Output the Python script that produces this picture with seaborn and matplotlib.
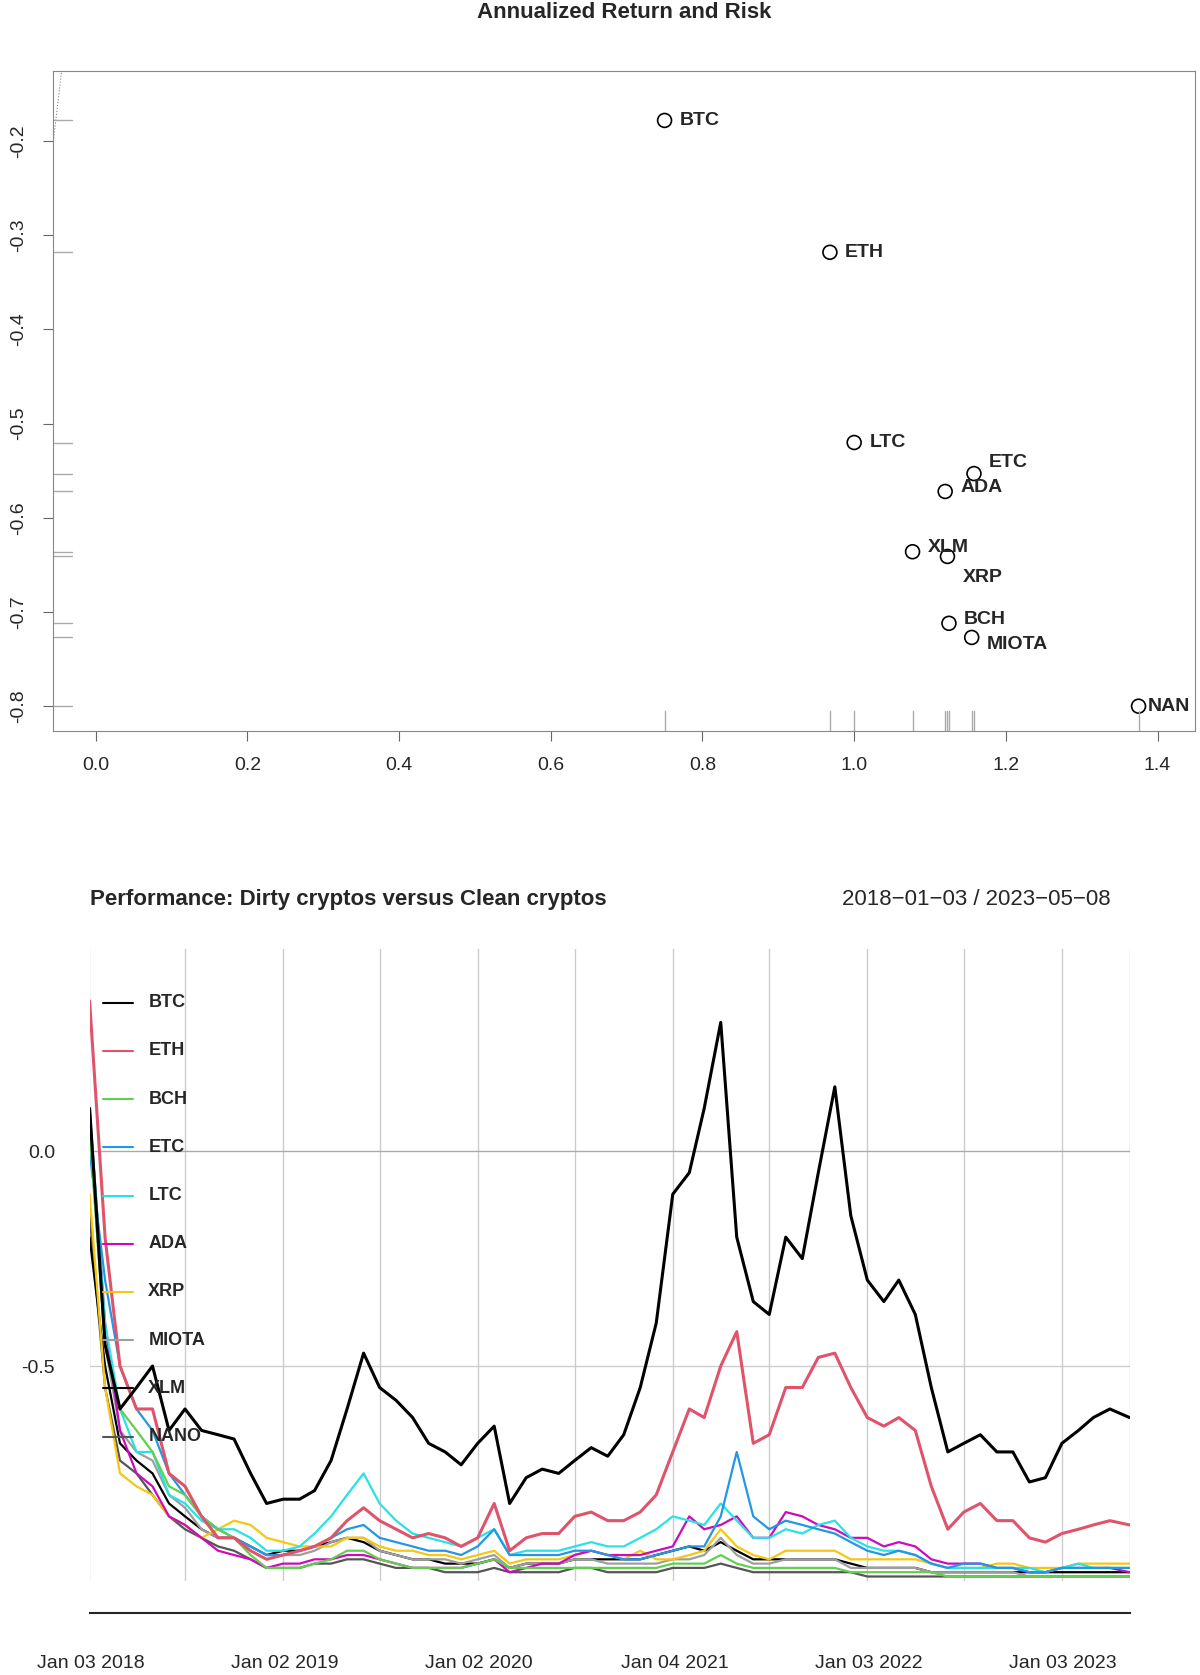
import matplotlib
matplotlib.use("Agg")
import matplotlib.pyplot as plt
import seaborn as sns
import pandas as pd
import numpy as np

sns.set_style("white")
plt.rcParams['font.family'] = ['Liberation Sans', 'DejaVu Sans']

# ---- Top scatter data ----
sc_names = ["BTC", "ETH", "LTC", "ETC", "ADA", "XLM", "XRP", "BCH", "MIOTA", "NAN"]
sc_risk = [0.750, 0.968, 1.000, 1.158, 1.120, 1.077, 1.123, 1.125, 1.155, 1.375]
sc_ret = [-0.178, -0.318, -0.520, -0.553, -0.572, -0.636, -0.641, -0.712, -0.727, -0.800]
sc_lab_dx = [0.02, 0.02, 0.02, 0.02, 0.02, 0.02, 0.02, 0.02, 0.02, 0.012]
sc_lab_dy = [0.0, 0.0, 0.0, 0.012, 0.004, 0.004, -0.022, 0.004, -0.008, 0.0]

# ---- Bottom time series (monthly, Jan 2018 - May 2023) ----
BTC = [0.10,-0.45,-0.60,-0.55,-0.50,-0.65,-0.60,-0.65,-0.66,-0.67,-0.75,-0.82,
       -0.81,-0.81,-0.79,-0.72,-0.60,-0.47,-0.55,-0.58,-0.62,-0.68,-0.70,-0.73,
       -0.68,-0.64,-0.82,-0.76,-0.74,-0.75,-0.72,-0.69,-0.71,-0.66,-0.55,-0.40,
       -0.10,-0.05,0.10,0.30,-0.20,-0.35,-0.38,-0.20,-0.25,-0.05,0.15,-0.15,
       -0.30,-0.35,-0.30,-0.38,-0.55,-0.70,-0.68,-0.66,-0.70,-0.70,-0.77,-0.76,
       -0.68,-0.65,-0.62,-0.60,-0.62]
ETH = [0.35,-0.20,-0.50,-0.60,-0.60,-0.75,-0.78,-0.85,-0.90,-0.90,-0.93,-0.95,
       -0.94,-0.93,-0.92,-0.90,-0.86,-0.83,-0.86,-0.88,-0.90,-0.89,-0.90,-0.92,
       -0.90,-0.82,-0.93,-0.90,-0.89,-0.89,-0.85,-0.84,-0.86,-0.86,-0.84,-0.80,
       -0.70,-0.60,-0.62,-0.50,-0.42,-0.68,-0.66,-0.55,-0.55,-0.48,-0.47,-0.55,
       -0.62,-0.64,-0.62,-0.65,-0.78,-0.88,-0.84,-0.82,-0.86,-0.86,-0.90,-0.91,
       -0.89,-0.88,-0.87,-0.86,-0.87]
BCH = [0.05,-0.45,-0.60,-0.65,-0.70,-0.78,-0.80,-0.85,-0.88,-0.90,-0.94,-0.97,
       -0.97,-0.97,-0.96,-0.95,-0.93,-0.93,-0.95,-0.96,-0.97,-0.97,-0.97,-0.97,
       -0.96,-0.95,-0.97,-0.97,-0.97,-0.97,-0.97,-0.97,-0.97,-0.97,-0.97,-0.97,
       -0.96,-0.96,-0.96,-0.94,-0.96,-0.97,-0.97,-0.97,-0.97,-0.97,-0.97,-0.98,
       -0.98,-0.98,-0.98,-0.98,-0.98,-0.99,-0.99,-0.99,-0.99,-0.99,-0.99,-0.99,
       -0.99,-0.99,-0.99,-0.99,-0.99]
ETC = [0.00,-0.30,-0.50,-0.60,-0.65,-0.75,-0.80,-0.85,-0.88,-0.90,-0.92,-0.94,
       -0.94,-0.93,-0.92,-0.90,-0.88,-0.87,-0.90,-0.91,-0.92,-0.93,-0.93,-0.94,
       -0.92,-0.88,-0.94,-0.94,-0.94,-0.94,-0.93,-0.93,-0.94,-0.95,-0.95,-0.94,
       -0.93,-0.92,-0.92,-0.85,-0.70,-0.85,-0.88,-0.86,-0.87,-0.88,-0.89,-0.91,
       -0.93,-0.94,-0.93,-0.94,-0.96,-0.97,-0.96,-0.96,-0.97,-0.97,-0.98,-0.98,
       -0.97,-0.97,-0.97,-0.97,-0.97]
LTC = [0.10,-0.40,-0.60,-0.70,-0.70,-0.80,-0.82,-0.86,-0.88,-0.88,-0.90,-0.93,
       -0.93,-0.92,-0.89,-0.85,-0.80,-0.75,-0.82,-0.86,-0.89,-0.90,-0.91,-0.92,
       -0.90,-0.88,-0.94,-0.93,-0.93,-0.93,-0.92,-0.91,-0.92,-0.92,-0.90,-0.88,
       -0.85,-0.86,-0.87,-0.82,-0.86,-0.90,-0.90,-0.88,-0.89,-0.87,-0.86,-0.90,
       -0.92,-0.93,-0.93,-0.94,-0.96,-0.97,-0.97,-0.97,-0.97,-0.97,-0.97,-0.98,
       -0.97,-0.96,-0.97,-0.97,-0.97]
ADA = [0.10,-0.40,-0.65,-0.75,-0.78,-0.85,-0.87,-0.90,-0.93,-0.94,-0.95,-0.97,
       -0.96,-0.96,-0.95,-0.95,-0.94,-0.94,-0.95,-0.96,-0.97,-0.97,-0.97,-0.97,
       -0.96,-0.95,-0.98,-0.97,-0.96,-0.96,-0.94,-0.93,-0.94,-0.94,-0.94,-0.93,
       -0.92,-0.85,-0.88,-0.87,-0.85,-0.90,-0.90,-0.84,-0.85,-0.87,-0.88,-0.90,
       -0.90,-0.92,-0.91,-0.92,-0.95,-0.96,-0.96,-0.96,-0.97,-0.97,-0.98,-0.98,
       -0.97,-0.97,-0.97,-0.97,-0.98]
XRP = [-0.10,-0.55,-0.75,-0.78,-0.80,-0.85,-0.87,-0.90,-0.88,-0.86,-0.87,-0.90,
       -0.91,-0.92,-0.92,-0.92,-0.90,-0.90,-0.92,-0.93,-0.93,-0.94,-0.94,-0.95,
       -0.94,-0.93,-0.96,-0.95,-0.95,-0.95,-0.94,-0.93,-0.94,-0.95,-0.93,-0.95,
       -0.95,-0.94,-0.93,-0.88,-0.92,-0.94,-0.95,-0.93,-0.93,-0.93,-0.93,-0.95,
       -0.95,-0.95,-0.95,-0.95,-0.96,-0.97,-0.97,-0.97,-0.96,-0.96,-0.97,-0.97,
       -0.97,-0.96,-0.96,-0.96,-0.96]
MIOTA = [0.05,-0.45,-0.65,-0.70,-0.72,-0.80,-0.83,-0.88,-0.90,-0.90,-0.92,-0.94,
         -0.94,-0.94,-0.93,-0.91,-0.90,-0.90,-0.93,-0.94,-0.95,-0.95,-0.95,-0.96,
         -0.95,-0.94,-0.97,-0.96,-0.96,-0.96,-0.95,-0.95,-0.96,-0.96,-0.96,-0.96,
         -0.95,-0.95,-0.94,-0.90,-0.94,-0.96,-0.96,-0.95,-0.95,-0.95,-0.95,-0.97,
         -0.97,-0.97,-0.97,-0.97,-0.98,-0.98,-0.98,-0.98,-0.98,-0.98,-0.99,-0.99,
         -0.99,-0.99,-0.99,-0.99,-0.99]
XLM = [-0.20,-0.50,-0.68,-0.72,-0.75,-0.82,-0.85,-0.88,-0.90,-0.90,-0.92,-0.94,
       -0.93,-0.93,-0.92,-0.91,-0.90,-0.91,-0.93,-0.94,-0.95,-0.95,-0.96,-0.96,
       -0.96,-0.95,-0.97,-0.96,-0.96,-0.96,-0.95,-0.95,-0.95,-0.95,-0.95,-0.94,
       -0.93,-0.92,-0.93,-0.91,-0.93,-0.95,-0.95,-0.95,-0.95,-0.95,-0.95,-0.96,
       -0.97,-0.97,-0.97,-0.97,-0.98,-0.98,-0.98,-0.98,-0.98,-0.98,-0.98,-0.98,
       -0.98,-0.98,-0.98,-0.98,-0.98]
NANO = [-0.15,-0.55,-0.72,-0.75,-0.80,-0.85,-0.88,-0.90,-0.92,-0.93,-0.95,-0.97,
        -0.97,-0.97,-0.96,-0.96,-0.95,-0.95,-0.96,-0.97,-0.97,-0.97,-0.98,-0.98,
        -0.98,-0.97,-0.98,-0.98,-0.98,-0.98,-0.97,-0.97,-0.98,-0.98,-0.98,-0.98,
        -0.97,-0.97,-0.97,-0.96,-0.97,-0.98,-0.98,-0.98,-0.98,-0.98,-0.98,-0.98,
        -0.99,-0.99,-0.99,-0.99,-0.99,-0.99,-0.99,-0.99,-0.99,-0.99,-0.99,-0.99,
        -0.99,-0.99,-0.99,-0.99,-0.99]
series_names = ["BTC", "ETH", "BCH", "ETC", "LTC", "ADA", "XRP", "MIOTA", "XLM", "NANO"]
series_vals = [BTC, ETH, BCH, ETC, LTC, ADA, XRP, MIOTA, XLM, NANO]
series_colors = ["black", "#DF536B", "#61D04F", "#2297E6", "#28E2E5", "#CD0BBC",
                 "#F5C710", "#9E9E9E", "black", "#555555"]
tick_dates = ["2018-01-03", "2019-01-02", "2020-01-02", "2021-01-04", "2022-01-03", "2023-01-03"]
tick_labels = ["Jan 03 2018", "Jan 02 2019", "Jan 02 2020", "Jan 04 2021", "Jan 03 2022", "Jan 03 2023"]

dates = pd.DatetimeIndex([pd.Timestamp("2018-01-03")] + list(pd.date_range("2018-02-01", periods=63, freq="MS")) + [pd.Timestamp("2023-05-08")])

# layout measured on a 1125-wide view
W, H = 1125.0, 1675 * 1125 / 1200
FS = 14
fig = plt.figure(figsize=(12, 16.75), dpi=100)

# ---- top ----
ax1 = fig.add_axes([50/W, 1-685/H, 1070/W, 618/H])
sdf = pd.DataFrame({"risk": sc_risk, "ret": sc_ret, "name": sc_names})
sns.scatterplot(data=sdf, x="risk", y="ret", ax=ax1, s=100, facecolor="none",
                edgecolor="black", linewidth=1.2, legend=False)
for n, x, y, dx, dy in zip(sc_names, sc_risk, sc_ret, sc_lab_dx, sc_lab_dy):
    ax1.text(x+dx, y+dy, n, fontsize=FS, fontweight="bold", va="center")
ax1.set_xlim(-0.056, 1.449)
ax1.set_ylim(-0.826, -0.126)
ax1.plot([-0.056, -0.045], [-0.2, -0.125], ls=":", color="gray", lw=0.8)
for x in sc_risk:
    ax1.plot([x, x], [-0.826, -0.805], color="#aaaaaa", lw=1)
for y in sc_ret:
    ax1.plot([-0.056, -0.032], [y, y], color="#aaaaaa", lw=1)
ax1.set_xticks(np.arange(0, 1.41, 0.2))
ax1.set_xticklabels([f"{v:.1f}" for v in np.arange(0, 1.41, 0.2)], fontsize=FS)
ax1.set_yticks([-0.8, -0.7, -0.6, -0.5, -0.4, -0.3, -0.2])
ax1.set_yticklabels(["-0.8", "-0.7", "-0.6", "-0.5", "-0.4", "-0.3", "-0.2"], rotation=90, va="center", fontsize=FS)
ax1.tick_params(axis="both", length=7, color="#666666", direction="out", bottom=True, left=True, pad=12)
ax1.set_xlabel(""); ax1.set_ylabel("")
for s in ax1.spines.values():
    s.set_color("#888888")
fig.text(585/W, 1-12/H, "Annualized Return and Risk", ha="center", va="center", fontsize=16, fontweight="bold")

# ---- bottom ----
ax2 = fig.add_axes([84/W, 1-1482/H, 975/W, 592/H])
for n, v, c in zip(series_names[::-1], series_vals[::-1], series_colors[::-1]):
    sns.lineplot(x=dates, y=v, ax=ax2, color=c, lw=2.2 if n in ("BTC", "ETH") else 1.6)
ax2.set_xlim(pd.Timestamp("2018-01-03"), pd.Timestamp("2023-05-08"))
ax2.set_ylim(-1.0, 0.47)
half = pd.date_range("2018-01-01", "2023-01-01", freq="6MS")
for d in half:
    ax2.axvline(d, color="#cccccc", lw=1, zorder=0)
ax2.axvline(pd.Timestamp("2023-05-08"), color="#cccccc", lw=1, zorder=0)
ax2.axhline(0, color="#aaaaaa", lw=1, zorder=0)
ax2.axhline(-0.5, color="#cccccc", lw=1, zorder=0)
ax2.set_yticks([0, -0.5]); ax2.set_yticklabels(["0.0", "-0.5"], fontsize=FS)
ax2.tick_params(axis="y", length=0, pad=25)
ax2.set_xticks([]); ax2.set_xlabel(""); ax2.set_ylabel("")
for s in ax2.spines.values():
    s.set_visible(False)
# date axis below
ax3 = fig.add_axes([84/W, 1-1512/H, 975/W, 0.0001])
ax3.set_xlim(pd.Timestamp("2018-01-03"), pd.Timestamp("2023-05-08"))
ax3.set_yticks([])
for s in ["left", "right", "top"]:
    ax3.spines[s].set_visible(False)
ax3.spines["bottom"].set_linewidth(1.5)
ax3.set_xticks(list(half) + [pd.Timestamp("2023-05-08")])
ax3.set_xticklabels([""] * (len(half) + 1))
ax3.tick_params(axis="x", length=9, width=1.5)
for d, l in zip(tick_dates, tick_labels):
    fig.text(ax3.get_position().x0 + ax3.get_position().width *
             (matplotlib.dates.date2num(pd.Timestamp(d)) - ax3.get_xlim()[0]) / (ax3.get_xlim()[1] - ax3.get_xlim()[0]),
             1-1560/H, l, ha="center", va="center", fontsize=FS)
for i, (n, c) in enumerate(zip(series_names, series_colors)):
    y = 1-(940 + i*45.2)/H
    fig.add_artist(plt.Line2D([97/W, 125/W], [y, y], color=c, lw=1.5))
    fig.text(139/W, y, n, fontsize=13, fontweight="bold", va="center")
fig.text(84/W, 1-843/H, "Performance: Dirty cryptos versus Clean cryptos", fontsize=16, fontweight="bold", va="center")
fig.text(1041/W, 1-843/H, "2018\u221201\u221203 / 2023\u221205\u221208", fontsize=16, ha="right", va="center")

fig.savefig("out.png", dpi=100)
